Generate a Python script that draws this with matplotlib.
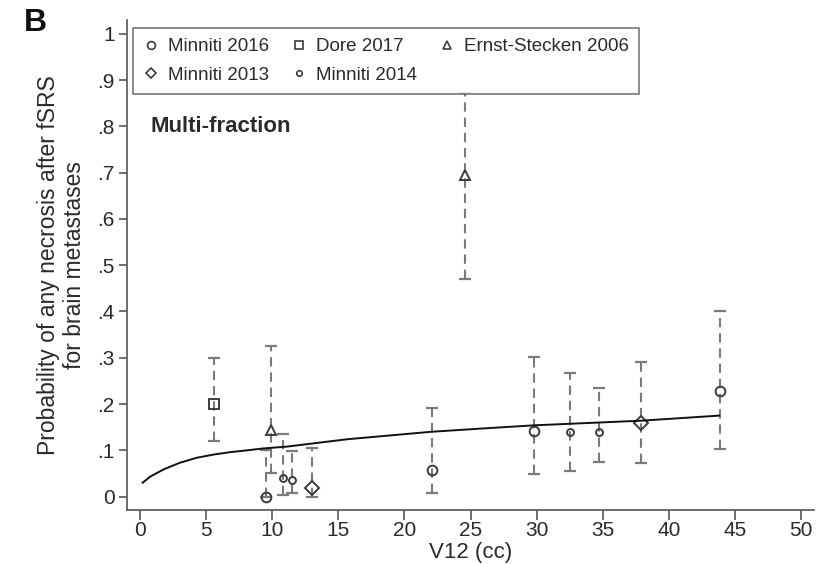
import numpy as np
import matplotlib
matplotlib.use('Agg')
import matplotlib.pyplot as plt
from matplotlib.lines import Line2D

plt.rcParams['font.family'] = ['Liberation Sans', 'DejaVu Sans']

## data
# Minniti 2016 (circles)
m16_x = [9.5, 22.1, 29.8, 43.9]
m16_y = [0.0, 0.057, 0.141, 0.228]
m16_lo = [0.0, 0.007, 0.048, 0.103]
m16_hi = [0.100, 0.192, 0.302, 0.401]

# Dore 2017 (square)
dore_x = [5.6]
dore_y = [0.200]
dore_lo = [0.120]
dore_hi = [0.300]

# Ernst-Stecken 2006 (triangles)
ernst_x = [9.9, 24.6]
ernst_y = [0.143, 0.694]
ernst_lo = [0.050, 0.471]
ernst_hi = [0.326, 0.871]

# Minniti 2013 (diamonds)
m13_x = [13.0, 37.9]
m13_y = [0.019, 0.159]
m13_lo = [0.0, 0.072]
m13_hi = [0.105, 0.291]

# Minniti 2014 (small circles)
m14_x = [10.8, 11.5, 32.5, 34.7]
m14_y = [0.040, 0.035, 0.139, 0.140]
m14_lo = [0.003, 0.008, 0.056, 0.074]
m14_hi = [0.135, 0.099, 0.266, 0.234]

# fitted curve
fit_x = [0.2, 0.76, 1.8, 3.0, 4.3, 5.6, 6.8, 8.1, 9.3, 11.1, 15.7, 22.0, 25.8, 29.8, 37.9, 43.8]
fit_y = [0.030, 0.043, 0.059, 0.073, 0.084, 0.091, 0.096, 0.100, 0.104, 0.108, 0.124,
         0.140, 0.147, 0.154, 0.164, 0.175]

series = [
    ('Minniti 2016', m16_x, m16_y, m16_lo, m16_hi, 'o', 7.0),
    ('Dore 2017', dore_x, dore_y, dore_lo, dore_hi, 's', 7.0),
    ('Ernst-Stecken 2006', ernst_x, ernst_y, ernst_lo, ernst_hi, '^', 7.5),
    ('Minniti 2013', m13_x, m13_y, m13_lo, m13_hi, 'D', 7.0),
    ('Minniti 2014', m14_x, m14_y, m14_lo, m14_hi, 'o', 5.0),
]

ecol = '#7a7a7a'
mcol = '#3c3c3c'
tcol = '#2a2a2a'

fig = plt.figure(figsize=(8.36, 5.64), dpi=100)
ax = fig.add_axes([0.152, 0.0957, 0.822, 0.869])

for name, x, y, lo, hi, mk, ms in series:
    x = np.array(x)
    y = np.array(y)
    err = [y - np.array(lo), np.array(hi) - y]
    eb = ax.errorbar(x, y, yerr=err, fmt='none', ecolor=ecol, elinewidth=1.5,
                     capsize=4.5, capthick=1.6, zorder=2)
    for lc in eb[2]:
        lc.set_linestyle((0, (4.5, 2.8)))
    ax.plot(x, y, linestyle='none', marker=mk, markersize=ms, markerfacecolor='none',
            markeredgecolor=mcol, markeredgewidth=1.4, zorder=3)

ax.plot(fit_x, fit_y, color='#111111', linewidth=1.4, zorder=4)

ax.set_xlim(-0.98, 51)
ax.set_ylim(-0.029, 1.03)
ax.set_xticks(np.arange(0, 51, 5))
ax.set_yticks(np.arange(0, 1.01, 0.1))
ax.set_yticklabels(['0', '.1', '.2', '.3', '.4', '.5', '.6', '.7', '.8', '.9', '1'])

for s in ['top', 'right']:
    ax.spines[s].set_visible(False)
for s in ['left', 'bottom']:
    ax.spines[s].set_color('#555555')
    ax.spines[s].set_linewidth(1.2)
ax.tick_params(axis='both', colors='#555555', labelcolor=tcol, labelsize=15, width=1.2)
ax.tick_params(axis='x', length=7, pad=1)
ax.tick_params(axis='y', length=6, pad=3)

ax.set_xlabel('V12 (cc)', fontsize=16, color=tcol, labelpad=1)
ax.set_ylabel('Probability of any necrosis after fSRS\nfor brain metastases', fontsize=16.5,
              color=tcol, labelpad=8, linespacing=1.15)

# legend with marker-only handles
handles = []
labels = []
order = [0, 3, 1, 4, 2]
for i in order:
    name, x, y, lo, hi, mk, ms = series[i]
    handles.append(Line2D([], [], linestyle='none', marker=mk, markersize=ms * 0.8,
                          markerfacecolor='none', markeredgecolor=mcol, markeredgewidth=1.2))
    labels.append(name)
leg = fig.legend(handles, labels, ncol=3, loc='upper left',
                 bbox_to_anchor=(133 / 836, 1 - 28 / 564), fontsize=13.5, frameon=True,
                 fancybox=False, edgecolor='#555555', handlelength=0.8, handletextpad=0.5,
                 columnspacing=1.2, labelspacing=0.6, borderpad=0.55, borderaxespad=0)
leg.get_frame().set_linewidth(1.2)
for t in leg.get_texts():
    t.set_color(tcol)

fig.text(150 / 836, 1 - 127 / 564, 'Multi-fraction', fontsize=16, fontweight='bold',
         color=tcol, va='center', ha='left')
fig.text(24 / 836, 1 - 23 / 564, 'B', fontsize=23, fontweight='bold', color='#111111',
         va='center', ha='left')

fig.savefig('out.png', dpi=100)
